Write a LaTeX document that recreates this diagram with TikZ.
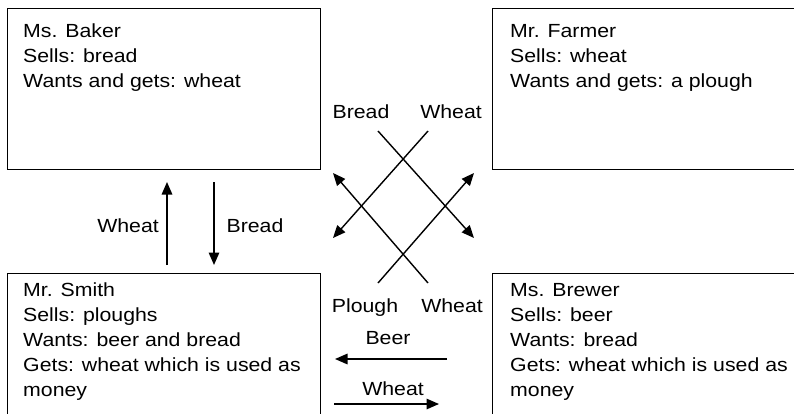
\documentclass[tikz,border=0pt]{standalone}
\usepackage{fontspec}
\setmainfont[FakeStretch=1.12]{Liberation Sans}
\usetikzlibrary{arrows.meta}

\begin{document}
\begin{tikzpicture}[x=1pt,y=-1pt,
  txt/.style={font=\fontsize{19}{25}\selectfont, inner sep=0pt},
  person/.style={draw=black, line width=1pt, fill=white, anchor=north west,
    minimum height=161pt, inner sep=0pt},
  info/.style={txt, align=left, anchor=north west,
    execute at begin node=\rule{0pt}{17pt}},
  lbl/.style={txt, anchor=base},
  flow/.style={line width=1.5pt, -{Triangle[length=12.5pt,width=10.5pt]}},
  cross/.style={line width=1.4pt},
]
\useasboundingbox (0,0) rectangle (794,413);
\clip (0,0) rectangle (794,413);

% the four traders
\node[person, minimum width=313pt] (baker)  at (7,8) {};
\node[person, minimum width=330pt] (farmer) at (492,8) {};
\node[person, minimum width=313pt] (smith)  at (7,272.5) {};
\node[person, minimum width=330pt] (brewer) at (492,272.5) {};

\node[info] (bakertxt) at (23,24)
  {Ms. Baker\\Sells: bread\\Wants and gets: wheat};
\node[info] (farmertxt) at (510,24)
  {Mr. Farmer\\Sells: wheat\\Wants and gets: a plough};
\node[info] (smithtxt) at (23,283)
  {Mr. Smith\\Sells: ploughs\\Wants: beer and bread\\Gets: wheat which is used as\\money};
\node[info] (brewertxt) at (510,283)
  {Ms. Brewer\\Sells: beer\\Wants: bread\\Gets: wheat which is used as\\money};

% Smith <-> Baker
\coordinate (wheatA) at (167,265);
\coordinate (wheatB) at (167,182);
\coordinate (breadA) at (214,182);
\coordinate (breadB) at (214,265);
\draw[flow] (wheatA) -- (wheatB);
\draw[flow] (breadA) -- (breadB);
\node[lbl] (lwheat1) at (128,232) {Wheat};
\node[lbl] (lbread1) at (255,232) {Bread};

% crossed exchanges in the middle
\coordinate (c1s) at (378,131);
\coordinate (c1e) at (474,238);
\coordinate (c2s) at (428,131);
\coordinate (c2e) at (333,238);
\coordinate (c3s) at (428,283);
\coordinate (c3e) at (333,173);
\coordinate (c4s) at (378,283);
\coordinate (c4e) at (474,173);
\draw[flow, cross] (c1s) -- (c1e);
\draw[flow, cross] (c2s) -- (c2e);
\draw[flow, cross] (c3s) -- (c3e);
\draw[flow, cross] (c4s) -- (c4e);
\node[lbl] (lbread2) at (361,118) {Bread};
\node[lbl] (lwheat2) at (451,118) {Wheat};
\node[lbl] (lplough) at (365,312) {Plough};
\node[lbl] (lwheat3) at (452,312) {Wheat};

% Smith <-> Brewer
\coordinate (beerA) at (447,359);
\coordinate (beerB) at (335,359);
\coordinate (wheatC) at (334,404);
\coordinate (wheatD) at (439,404);
\draw[flow] (beerA) -- (beerB);
\draw[flow] (wheatC) -- (wheatD);
\node[lbl] (lbeer)   at (388,344) {Beer};
\node[lbl] (lwheat4) at (393,395) {Wheat};
\end{tikzpicture}
\end{document}
